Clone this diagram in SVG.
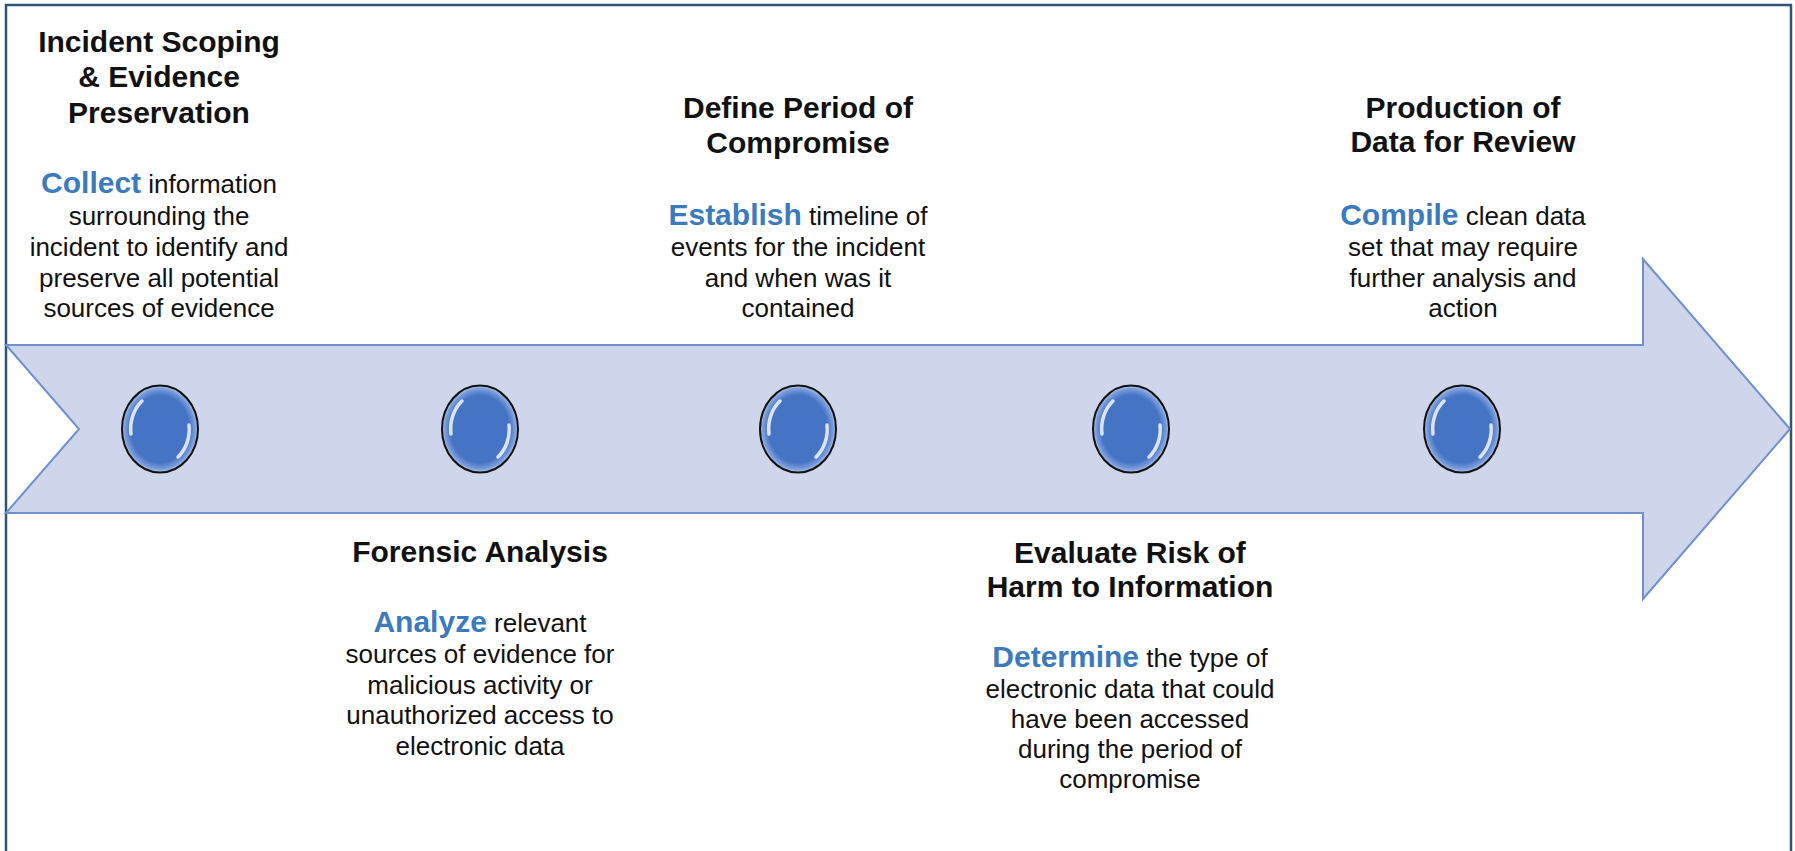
<svg xmlns="http://www.w3.org/2000/svg" width="1795" height="851" viewBox="0 0 1795 851">
  <style>
    text { font-family: "Liberation Sans", Arial, sans-serif; fill: #111; text-anchor: middle; }
    .title { font-size: 30px; font-weight: bold; }
    .body { font-size: 26px; }
    .verb { font-size: 30px; font-weight: bold; fill: #3b7bbd; }
    .hl { fill: none; stroke: #ffffff; stroke-width: 3.5; stroke-linecap: round; opacity: 0.8; }
  </style>
  <defs>
    <radialGradient id="beadFill" cx="0.5" cy="0.5" r="0.5">
      <stop offset="0" stop-color="#4472c4"/>
      <stop offset="0.78" stop-color="#4674c5"/>
      <stop offset="0.93" stop-color="#7d9fdc"/>
      <stop offset="1" stop-color="#b9cbec"/>
    </radialGradient>
    <g id="bead">
      <ellipse cx="0" cy="0" rx="38" ry="43.5" fill="url(#beadFill)" stroke="#111" stroke-width="2"/>
      <path class="hl" d="M -29 5 A 31 36 0 0 1 -18 -28"/>
      <path class="hl" d="M 29 -4 A 31 36 0 0 1 18 28"/>
    </g>
  </defs>

  <rect x="0" y="0" width="1795" height="851" fill="#ffffff"/>
  <path d="M 6 860 L 6 5 L 1791 5 L 1791 860" fill="none" stroke="#2f5478" stroke-width="2.5"/>

  <g id="connectors">
    <polygon points="6,345 1643,345 1643,259 1790,429 1643,599 1643,513 6,513 79,429" fill="#cfd5ea" stroke="#6f8fcf" stroke-width="2" stroke-linejoin="miter"/>
  </g>

  <g id="node1">
    <use href="#bead" x="160" y="429"/>
    <text class="title" x="159" y="52">Incident Scoping</text>
    <text class="title" x="159" y="87">&amp; Evidence</text>
    <text class="title" x="159" y="123">Preservation</text>
    <text class="body" x="159" y="193"><tspan class="verb">Collect</tspan> information</text>
    <text class="body" x="159" y="225">surrounding the</text>
    <text class="body" x="159" y="256">incident to identify and</text>
    <text class="body" x="159" y="287">preserve all potential</text>
    <text class="body" x="159" y="317">sources of evidence</text>
  </g>

  <g id="node2">
    <use href="#bead" x="480" y="429"/>
    <text class="title" x="480" y="562">Forensic Analysis</text>
    <text class="body" x="480" y="632"><tspan class="verb">Analyze</tspan> relevant</text>
    <text class="body" x="480" y="663">sources of evidence for</text>
    <text class="body" x="480" y="694">malicious activity or</text>
    <text class="body" x="480" y="724">unauthorized access to</text>
    <text class="body" x="480" y="755">electronic data</text>
  </g>

  <g id="node3">
    <use href="#bead" x="798" y="429"/>
    <text class="title" x="798" y="118">Define Period of</text>
    <text class="title" x="798" y="153">Compromise</text>
    <text class="body" x="798" y="225"><tspan class="verb">Establish</tspan> timeline of</text>
    <text class="body" x="798" y="256">events for the incident</text>
    <text class="body" x="798" y="287">and when was it</text>
    <text class="body" x="798" y="317">contained</text>
  </g>

  <g id="node4">
    <use href="#bead" x="1131" y="429"/>
    <text class="title" x="1130" y="563">Evaluate Risk of</text>
    <text class="title" x="1130" y="597">Harm to Information</text>
    <text class="body" x="1130" y="667"><tspan class="verb">Determine</tspan> the type of</text>
    <text class="body" x="1130" y="698">electronic data that could</text>
    <text class="body" x="1130" y="728">have been accessed</text>
    <text class="body" x="1130" y="758">during the period of</text>
    <text class="body" x="1130" y="788">compromise</text>
  </g>

  <g id="node5">
    <use href="#bead" x="1462" y="429"/>
    <text class="title" x="1463" y="118">Production of</text>
    <text class="title" x="1463" y="152">Data for Review</text>
    <text class="body" x="1463" y="225"><tspan class="verb">Compile</tspan> clean data</text>
    <text class="body" x="1463" y="256">set that may require</text>
    <text class="body" x="1463" y="287">further analysis and</text>
    <text class="body" x="1463" y="317">action</text>
  </g>
</svg>
